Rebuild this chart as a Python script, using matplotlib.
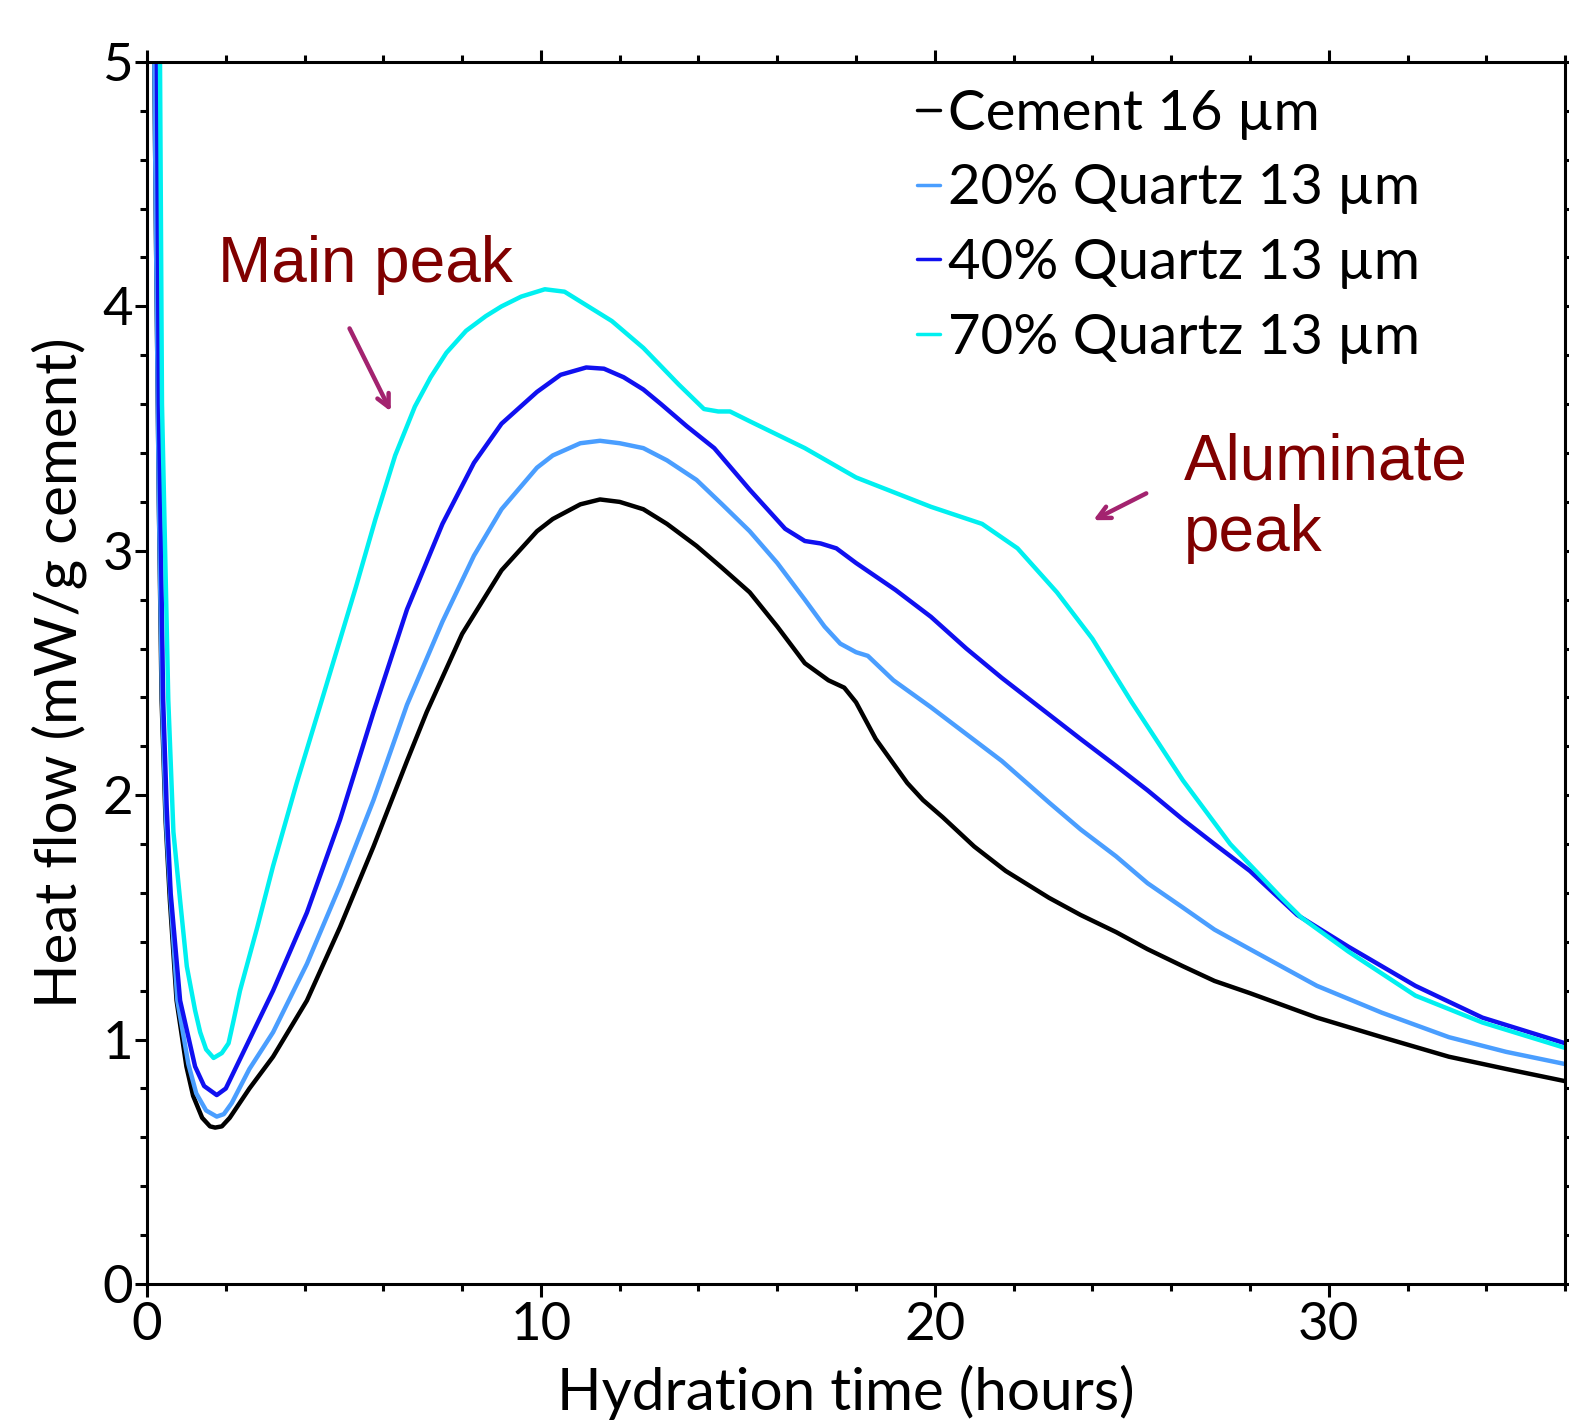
# heat flow calorimetry curves, cement + quartz filler

import numpy as np
from matplotlib import pyplot as plt
from matplotlib.ticker import MultipleLocator

plt.rcParams['font.family'] = ['Lato', 'DejaVu Sans']

# hydration time (hours) and heat flow (mW/g cement)
t_cem = [0.15, 0.22, 0.30, 0.37, 0.47, 0.58, 0.75, 1.0, 1.17, 1.4, 1.6, 1.73, 1.9,
         2.1, 2.6, 3.2, 4.06, 4.9, 5.75, 6.6, 7.1, 8.0, 9.0, 9.9, 10.3, 11.0, 11.5,
         12.0, 12.6, 13.2, 13.95, 14.6, 15.3, 16.0, 16.7, 17.3, 17.7, 18.0, 18.5,
         19.3, 19.7, 20.2, 21.0, 21.8, 22.9, 23.7, 24.6, 25.4, 26.3, 27.1, 28.0,
         29.7, 31.35, 33.05, 34.5, 36.0]
q_cem = [5.6, 4.4, 3.2, 2.39, 1.9, 1.57, 1.16, 0.89, 0.77, 0.68, 0.645, 0.64, 0.645,
         0.68, 0.80, 0.93, 1.16, 1.46, 1.79, 2.14, 2.34, 2.66, 2.92, 3.08, 3.13, 3.19, 3.21,
         3.20, 3.17, 3.11, 3.02, 2.93, 2.83, 2.69, 2.54, 2.47, 2.44, 2.38, 2.23,
         2.05, 1.98, 1.91, 1.79, 1.69, 1.58, 1.51, 1.44, 1.37, 1.30, 1.24, 1.19,
         1.09, 1.01, 0.93, 0.88, 0.83]

t_q20 = [0.15, 0.22, 0.30, 0.38, 0.48, 0.60, 0.77, 1.05, 1.25, 1.5, 1.77, 1.95, 2.15,
         2.6, 3.2, 4.06, 4.9, 5.75, 6.6, 7.5, 8.3, 9.0, 9.9, 10.3, 11.0, 11.5, 12.0,
         12.6, 13.2, 13.95, 14.6, 15.3, 16.0, 16.7, 17.2, 17.6, 18.0, 18.3, 18.95,
         19.9, 20.8, 21.7, 22.9, 23.7, 24.6, 25.4, 26.3, 27.1, 28.0, 29.7, 31.35,
         33.05, 34.5, 36.0]
q_q20 = [5.6, 4.4, 3.2, 2.39, 1.9, 1.57, 1.16, 0.90, 0.78, 0.71, 0.685, 0.695, 0.74,
         0.88, 1.03, 1.31, 1.63, 1.98, 2.37, 2.71, 2.98, 3.17, 3.34, 3.39, 3.44, 3.45, 3.44,
         3.42, 3.37, 3.29, 3.19, 3.08, 2.95, 2.80, 2.69, 2.62, 2.585, 2.57, 2.47,
         2.36, 2.25, 2.14, 1.97, 1.86, 1.75, 1.64, 1.54, 1.45, 1.37, 1.22, 1.11,
         1.01, 0.95, 0.90]

t_q40 = [0.15, 0.25, 0.30, 0.41, 0.50, 0.60, 0.84, 1.22, 1.45, 1.77, 2.0, 2.36, 3.2,
         4.06, 4.9, 5.75, 6.6, 7.5, 8.3, 9.0, 9.9, 10.5, 11.15, 11.6, 12.1, 12.6,
         13.05, 13.7, 14.4, 15.3, 16.2, 16.7, 17.1, 17.5, 18.0, 19.0, 19.9, 20.8,
         21.7, 22.9, 23.7, 24.6, 25.4, 26.3, 27.1, 28.0, 29.2, 30.5, 32.2, 33.9, 36.0]
q_q40 = [5.8, 5.0, 3.6, 2.39, 1.95, 1.60, 1.16, 0.89, 0.81, 0.773, 0.80, 0.92, 1.20,
         1.52, 1.90, 2.34, 2.76, 3.11, 3.36, 3.52, 3.65, 3.72, 3.75, 3.745, 3.71, 3.66,
         3.60, 3.51, 3.42, 3.25, 3.09, 3.04, 3.03, 3.01, 2.95, 2.84, 2.73, 2.60,
         2.48, 2.33, 2.23, 2.12, 2.02, 1.90, 1.80, 1.69, 1.51, 1.38, 1.22, 1.09, 0.985]

t_q70 = [0.22, 0.33, 0.38, 0.54, 0.67, 0.84, 1.01, 1.22, 1.35, 1.5, 1.69, 1.9, 2.07,
         2.2, 2.36, 2.8, 3.2, 3.8, 4.44, 5.3, 5.8, 6.3, 6.8, 7.2, 7.6, 8.1, 8.6,
         9.0, 9.5, 10.1, 10.6, 11.2, 11.8, 12.6, 13.5, 14.14, 14.5, 14.8, 15.3,
         16.7, 18.0, 19.9, 21.2, 22.1, 23.1, 24.0, 25.0, 26.3, 27.5, 28.8, 29.3,
         30.5, 32.2, 33.9, 36.0]
q_q70 = [5.8, 5.0, 3.6, 2.39, 1.85, 1.57, 1.30, 1.12, 1.03, 0.96, 0.925, 0.945, 0.985,
         1.08, 1.20, 1.46, 1.71, 2.05, 2.39, 2.85, 3.13, 3.39, 3.59, 3.71, 3.81, 3.90, 3.96,
         4.00, 4.04, 4.07, 4.06, 4.00, 3.94, 3.83, 3.68, 3.58, 3.57, 3.57, 3.53,
         3.42, 3.30, 3.18, 3.11, 3.01, 2.83, 2.64, 2.38, 2.06, 1.80, 1.58, 1.50,
         1.36, 1.18, 1.07, 0.966]

series = [(t_cem, q_cem, 'black', 'Cement 16 \u00b5m'),
          (t_q20, q_q20, '#4a9eff', '20% Quartz 13 \u00b5m'),
          (t_q40, q_q40, '#1010f0', '40% Quartz 13 \u00b5m'),
          (t_q70, q_q70, '#00f0f0', '70% Quartz 13 \u00b5m')]

fig = plt.figure(figsize=(15.69, 14.21), dpi=100)
ax = fig.add_axes([0.0937, 0.0964, 0.9038, 0.86])

for t, q, c, lab in series:
    ax.plot(t, q, color=c, lw=3.2, label=lab, solid_capstyle='round',
            solid_joinstyle='round')

ax.set_xlim(0, 36)
ax.set_ylim(0, 5)
ax.xaxis.set_major_locator(MultipleLocator(10))
ax.xaxis.set_minor_locator(MultipleLocator(2))
ax.yaxis.set_major_locator(MultipleLocator(1))
ax.yaxis.set_minor_locator(MultipleLocator(0.2))
ax.tick_params(which='both', direction='out', top=True, right=True, width=2.2,
               labelsize=38)
ax.tick_params(which='major', length=9)
ax.tick_params(which='minor', length=5)
ax.tick_params(axis='y', pad=1)
ax.tick_params(axis='x', pad=4)
for sp in ax.spines.values():
    sp.set_linewidth(2.2)

ax.set_xlabel('Hydration time (hours)', fontsize=42)
ax.set_ylabel('Heat flow (mW/g cement)', fontsize=42)
ax.xaxis.set_label_coords(0.493, -0.066)
ax.yaxis.set_label_coords(-0.042, 0.5)

leg = ax.legend(loc='upper left', bbox_to_anchor=(0.543, 0.978), frameon=False,
                fontsize=40.5, handlelength=0.4, handletextpad=0.15,
                labelspacing=0.42, borderpad=0, borderaxespad=0)
for h in leg.get_lines():
    h.set_linewidth(2.5)

# annotations
red = '#800000'
arrow_col = '#a3236f'
ax.text(1.80, 4.10, 'Main peak', color=red, fontsize=46,
        family='Liberation Sans', va='baseline')
ax.text(26.32, 3.29, 'Aluminate', color=red, fontsize=46,
        family='Liberation Sans', va='baseline')
ax.text(26.32, 3.00, 'peak', color=red, fontsize=46,
        family='Liberation Sans', va='baseline')
ax.annotate('', xy=(6.22, 3.56), xytext=(5.11, 3.92),
            arrowprops=dict(arrowstyle='->,head_length=0.9,head_width=0.45',
                            color=arrow_col, lw=3.2))
ax.annotate('', xy=(23.96, 3.12), xytext=(25.43, 3.24),
            arrowprops=dict(arrowstyle='->,head_length=0.9,head_width=0.45',
                            color=arrow_col, lw=3.2))

plt.savefig('out.png', dpi=100)
